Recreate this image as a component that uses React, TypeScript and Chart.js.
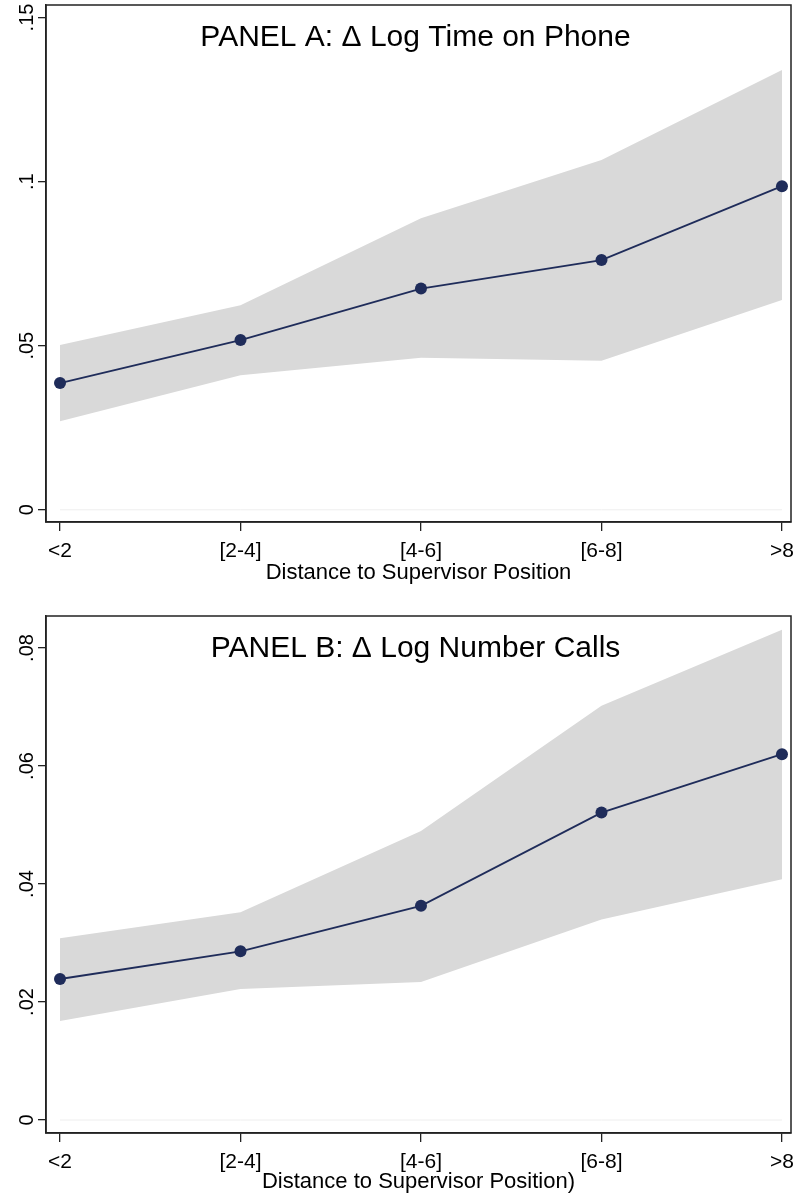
import React, { useEffect, useRef } from "react";
import { Chart, registerables } from "chart.js";

Chart.register(...registerables);

const categories = ["<2", "[2-4]", "[4-6]", "[6-8]", ">8"];

const panelAEstimate = [0.0386, 0.0517, 0.0674, 0.0761, 0.0986];
const panelAUpper = [0.0502, 0.0623, 0.0888, 0.1066, 0.134];
const panelALower = [0.027, 0.041, 0.0463, 0.0454, 0.0639];
const panelATicks = [0, 0.05, 0.1, 0.15];
const panelATickLabels = ["0", ".05", ".1", ".15"];

const panelBEstimate = [0.0239, 0.0286, 0.0363, 0.0521, 0.062];
const panelBUpper = [0.0308, 0.0352, 0.049, 0.0702, 0.0831];
const panelBLower = [0.0168, 0.0222, 0.0234, 0.034, 0.0408];
const panelBTicks = [0, 0.02, 0.04, 0.06, 0.08];
const panelBTickLabels = ["0", ".02", ".04", ".06", ".08"];

const FONT = '"Liberation Sans", Arial, Helvetica, sans-serif';
const NAVY = "#1f2c5a";
const BAND = "#d9d9d9";

const stataPlugin = {
  id: "stataDecor",
  afterDraw(chart: any, _args: any, opts: any) {
    const { ctx, chartArea: a, scales } = chart;
    ctx.save();
    ctx.strokeStyle = "#222";
    ctx.lineWidth = 1.5;
    ctx.strokeRect(a.left, a.top, a.right - a.left, a.bottom - a.top);
    const y = scales.y;
    ctx.fillStyle = "#000";
    ctx.font = `20px ${FONT}`;
    ctx.textAlign = "center";
    ctx.textBaseline = "alphabetic";
    (opts.yTicks as number[]).forEach((v, i) => {
      const py = y.getPixelForValue(v);
      ctx.save();
      ctx.translate(a.left - 13, py);
      ctx.rotate(-Math.PI / 2);
      ctx.fillText(opts.yLabels[i], 0, 0);
      ctx.restore();
    });
    ctx.font = `30px ${FONT}`;
    ctx.fillText(opts.title, (a.left + a.right) / 2 - 3, a.top + opts.titleOffset);
    ctx.restore();
  },
};

type PanelProps = {
  top: number;
  height: number;
  est: number[];
  upper: number[];
  lower: number[];
  yTicks: number[];
  yLabels: string[];
  yMin: number;
  yMax: number;
  title: string;
  xTitle: string;
  padTop: number;
  padBottom: number;
  xHeight: number;
};

function Panel(p: PanelProps) {
  const ref = useRef<HTMLCanvasElement>(null);
  useEffect(() => {
    if (!ref.current) return;
    const pts = (arr: number[]) => arr.map((v, i) => ({ x: i, y: v }));
    const chart = new Chart(ref.current, {
      type: "line",
      data: {
        datasets: [
          {
            data: pts(p.est),
            borderColor: NAVY,
            backgroundColor: NAVY,
            borderWidth: 1.8,
            pointRadius: 6,
            pointBorderWidth: 0,
            fill: false,
            tension: 0,
          },
          {
            data: pts(p.upper),
            borderWidth: 0,
            borderColor: "rgba(0,0,0,0)",
            backgroundColor: BAND,
            pointRadius: 0,
            fill: "+1",
          },
          {
            data: pts(p.lower),
            borderWidth: 0,
            borderColor: "rgba(0,0,0,0)",
            pointRadius: 0,
            fill: false,
          },
          {
            data: pts(categories.map(() => 0)),
            borderWidth: 1,
            borderColor: "#eeeeee",
            pointRadius: 0,
            fill: false,
          },
        ],
      },
      options: {
        responsive: false,
        animation: false,
        events: [],
        layout: {
          autoPadding: false,
          padding: { top: p.padTop, right: 4, bottom: p.padBottom, left: 0 },
        },
        plugins: {
          legend: { display: false },
          tooltip: { enabled: false },
          stataDecor: {
            yTicks: p.yTicks,
            yLabels: p.yLabels,
            title: p.title,
            titleOffset: 41,
          },
        } as any,
        scales: {
          x: {
            type: "linear",
            min: -0.0776,
            max: 4.05,
            afterBuildTicks: (s: any) => {
              s.ticks = categories.map((_, i) => ({ value: i }));
            },
            afterFit: (s: any) => {
              s.height = p.xHeight;
              s.paddingLeft = 0;
              s.paddingRight = 0;
            },
            grid: {
              drawOnChartArea: false,
              drawTicks: true,
              tickLength: 9,
              tickColor: "#222",
              lineWidth: 1.3,
            },
            border: { display: true, color: "#222", width: 1.5 },
            ticks: {
              color: "#000",
              padding: 8,
              maxRotation: 0,
              autoSkip: false,
              font: { family: FONT, size: 21 },
              callback: (v: any) => categories[Math.round(Number(v))] ?? "",
            },
            title: {
              display: true,
              text: p.xTitle,
              color: "#000",
              font: { family: FONT, size: 22 },
              padding: { top: 0, bottom: 0 },
            },
          },
          y: {
            type: "linear",
            min: p.yMin,
            max: p.yMax,
            afterBuildTicks: (s: any) => {
              s.ticks = p.yTicks.map((v) => ({ value: v }));
            },
            afterFit: (s: any) => {
              s.width = 46;
              s.paddingTop = 0;
              s.paddingBottom = 0;
            },
            grid: {
              drawOnChartArea: false,
              drawTicks: true,
              tickLength: 8,
              tickColor: "#222",
              lineWidth: 1.3,
            },
            border: { display: true, color: "#222", width: 1.5 },
            ticks: { display: false },
          },
        },
      },
      plugins: [stataPlugin],
    } as any);
    return () => chart.destroy();
  }, []);
  return (
    <canvas
      ref={ref}
      width={795}
      height={p.height}
      style={{ position: "absolute", left: 0, top: p.top, width: 795, height: p.height, display: "block" }}
    />
  );
}

export default function App() {
  return (
    <div style={{ position: "absolute", left: 0, top: 0, width: 795, height: 1199, background: "#fff" }}>
      <Panel
        top={0}
        height={600}
        est={panelAEstimate}
        upper={panelAUpper}
        lower={panelALower}
        yTicks={panelATicks}
        yLabels={panelATickLabels}
        yMin={-0.00372}
        yMax={0.15381}
        title="PANEL A: Δ Log Time on Phone"
        xTitle="Distance to Supervisor Position"
        padTop={5}
        padBottom={14}
        xHeight={64}
      />
      <Panel
        top={600}
        height={599}
        est={panelBEstimate}
        upper={panelBUpper}
        lower={panelBLower}
        yTicks={panelBTicks}
        yLabels={panelBTickLabels}
        yMin={-0.0022}
        yMax={0.08542}
        title="PANEL B: Δ Log Number Calls"
        xTitle="Distance to Supervisor Position)"
        padTop={16}
        padBottom={4}
        xHeight={62}
      />
    </div>
  );
}
